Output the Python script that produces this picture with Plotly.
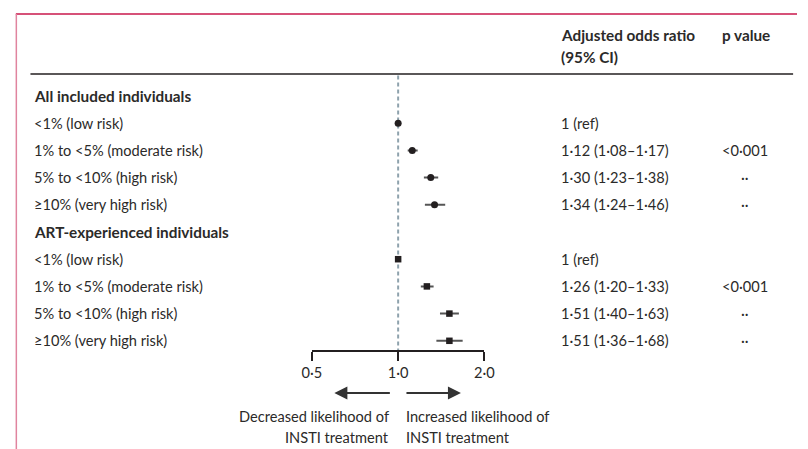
import math
import plotly.graph_objects as go

# ---------------- data ----------------
group_titles = ["All included individuals", "ART-experienced individuals"]
categories = ["<1% (low risk)", "1% to <5% (moderate risk)",
              "5% to <10% (high risk)", "≥10% (very high risk)"]

or_all = [1.00, 1.12, 1.30, 1.34]
lo_all = [1.00, 1.08, 1.23, 1.24]
hi_all = [1.00, 1.17, 1.38, 1.46]
txt_all = ["1 (ref)", "1·12 (1·08–1·17)", "1·30 (1·23–1·38)", "1·34 (1·24–1·46)"]
p_all = ["", "<0·001", "··", "··"]

or_art = [1.00, 1.26, 1.51, 1.51]
lo_art = [1.00, 1.20, 1.40, 1.36]
hi_art = [1.00, 1.33, 1.63, 1.68]
txt_art = ["1 (ref)", "1·26 (1·20–1·33)", "1·51 (1·40–1·63)", "1·51 (1·36–1·68)"]
p_art = ["", "<0·001", "··", "··"]

tick_vals = [0.5, 1.0, 2.0]
tick_text = ["0·5", "1·0", "2·0"]

header_or = ["Adjusted odds ratio", "(95% CI)"]
header_p = "p value"
arrow_left_text = ["Decreased likelihood of", "INSTI treatment"]
arrow_right_text = ["Increased likelihood of", "INSTI treatment"]

# ---------------- layout constants ----------------
W, H = 808, 449
FONT = "Lato"
FS = 14.6
FSB = 15.3
TXT = "#2b2a29"
DARK = "#231f20"
ROW0_PX, ROW_STEP = 96.0, 27.2


def py(px):  # pixel y -> paper
    return 1 - px / H


def pxx(px):  # pixel x -> paper
    return px / W


def row_of(px):
    return (px - ROW0_PX) / ROW_STEP


rows_all = [1, 2, 3, 4]
rows_art = [6, 7, 8, 9]

fig = go.Figure()


def add_series(ors, los, his, rows, symbol, size):
    fig.add_trace(go.Scatter(
        x=ors, y=rows, mode="markers",
        marker=dict(symbol=symbol, size=size, color=DARK),
        error_x=dict(type="data", symmetric=False,
                     array=[h - o for h, o in zip(his, ors)],
                     arrayminus=[o - l for o, l in zip(ors, los)],
                     color="#555555", thickness=2, width=0),
        showlegend=False, hoverinfo="skip", cliponaxis=False))


add_series(or_all, lo_all, hi_all, rows_all, "circle", 7)
add_series(or_art, lo_art, hi_art, rows_art, "square", 6.5)


def label(x, y, text, anchor="left", yref="y", size=FS):
    return dict(x=x, y=y, xref="paper", yref=yref, text=text,
                showarrow=False, xanchor=anchor, yanchor="middle",
                borderpad=0, borderwidth=0,
                font=dict(family=FONT, size=size, color=TXT))


ann = []
for title, rows, txts, ps in [(group_titles[0], rows_all, txt_all, p_all),
                              (group_titles[1], rows_art, txt_art, p_art)]:
    ann.append(label(pxx(25), rows[0] - 1, "<b>" + title + "</b>", size=FSB))
    for r, cat, t, p in zip(rows, categories, txts, ps):
        ann.append(label(pxx(25), r, cat))
        ann.append(label(pxx(566), r, t))
        if p:
            ann.append(label(pxx(755), r, p, anchor="center"))

# headers
ann.append(label(pxx(566), py(35), "<b>" + header_or[0] + "</b>", yref="paper", size=FSB))
ann.append(label(pxx(566), py(57), "<b>" + header_or[1] + "</b>", yref="paper", size=FSB))
ann.append(label(pxx(731), py(35), "<b>" + header_p + "</b>", yref="paper", size=FSB))

# arrows
ann.append(dict(x=pxx(333), y=py(393), xref="paper", yref="paper",
                ax=57, ay=0, text="", showarrow=True, arrowhead=2,
                arrowsize=1.3, arrowwidth=2, arrowcolor="#333333"))
ann.append(dict(x=pxx(463), y=py(393), xref="paper", yref="paper",
                ax=-56, ay=0, text="", showarrow=True, arrowhead=2,
                arrowsize=1.3, arrowwidth=2, arrowcolor="#333333"))
for i, ypx in enumerate([416, 437]):
    ann.append(label(pxx(389), py(ypx), arrow_left_text[i], anchor="right", yref="paper"))
    ann.append(label(pxx(407), py(ypx), arrow_right_text[i], anchor="left", yref="paper"))

shapes = [
    # frame (top + left)
    dict(type="line", xref="paper", yref="paper", x0=pxx(6), x1=1.0,
         y0=py(14), y1=py(14), line=dict(color="#c8174b", width=1.5)),
    dict(type="line", xref="paper", yref="paper", x0=pxx(6.5), x1=pxx(6.5),
         y0=py(14), y1=0, line=dict(color="#e0849f", width=1.5)),
    # header rule
    dict(type="line", xref="paper", yref="paper", x0=pxx(21), x1=pxx(804),
         y0=py(74), y1=py(74), line=dict(color=DARK, width=1.5)),
    # reference line at OR = 1
    dict(type="line", xref="x", yref="y", x0=1, x1=1,
         y0=row_of(75.5), y1=row_of(351), layer="below",
         line=dict(color="#8ea2ad", width=2, dash="4px,3px")),
]

fig.update_layout(
    width=W, height=H, margin=dict(l=0, r=0, t=0, b=0),
    paper_bgcolor="white", plot_bgcolor="rgba(0,0,0,0)",
    showlegend=False, annotations=ann, shapes=shapes,
    xaxis=dict(type="log", domain=[pxx(310), pxx(487)],
               range=[math.log10(0.5), math.log10(2.0)],
               anchor="free", position=py(351),
               showline=True, linecolor=DARK, linewidth=1.5,
               ticks="outside", ticklen=9, tickwidth=1.5, tickcolor=DARK,
               tickvals=tick_vals, ticktext=tick_text,
               tickfont=dict(family=FONT, size=FS, color=TXT),
               showgrid=False, zeroline=False, fixedrange=True),
    yaxis=dict(domain=[0, 1], range=[row_of(H), row_of(0)],
               visible=False, fixedrange=True),
)

fig.write_html("out.html")
